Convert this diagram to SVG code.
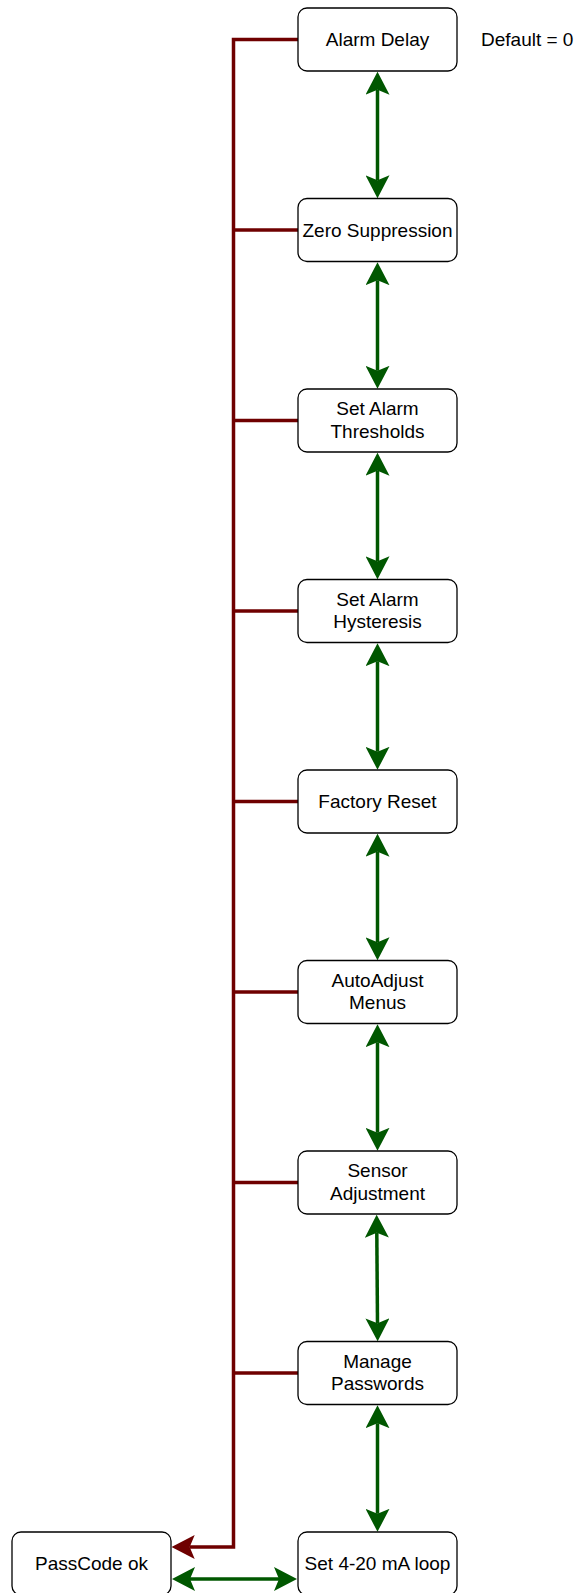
<svg xmlns="http://www.w3.org/2000/svg" width="577" height="1593" viewBox="0 0 577 1593">
<style>
.node rect{fill:#ffffff;stroke:#000000;stroke-width:1.3}
text{font-family:"Liberation Sans",Arial,sans-serif;font-size:19px;fill:#000000}
.lbl{text-anchor:middle}
.red{fill:none;stroke:#6F0000;stroke-width:3.5}
.green{fill:none;stroke:#005700;stroke-width:3.5}
</style>
<defs>
<marker id="ag" viewBox="0 0 23 24" refX="5" refY="12" markerWidth="23" markerHeight="24" markerUnits="userSpaceOnUse" orient="auto-start-reverse">
<path d="M0,0 L23,12 L0,24 L5,12 Z" fill="#005700"/>
</marker>
<marker id="ar" viewBox="0 0 23 24" refX="5" refY="12" markerWidth="23" markerHeight="24" markerUnits="userSpaceOnUse" orient="auto-start-reverse">
<path d="M0,0 L23,12 L0,24 L5,12 Z" fill="#6F0000"/>
</marker>
</defs>
<rect x="0" y="0" width="577" height="1593" fill="#ffffff"/>
<g id="connectors">
<path class="red" d="M298,39.5 H233.5 V1547 H189.7" marker-end="url(#ar)"/>
<path class="red" d="M233.5,230 H298"/>
<path class="red" d="M233.5,420.5 H298"/>
<path class="red" d="M233.5,611 H298"/>
<path class="red" d="M233.5,801.5 H298"/>
<path class="red" d="M233.5,992 H298"/>
<path class="red" d="M233.5,1182.5 H298"/>
<path class="red" d="M233.5,1373 H298"/>
<path class="green" d="M377.5,89.7 V180.3" marker-start="url(#ag)" marker-end="url(#ag)"/>
<path class="green" d="M377.5,280.2 V370.8" marker-start="url(#ag)" marker-end="url(#ag)"/>
<path class="green" d="M377.5,470.7 V561.3" marker-start="url(#ag)" marker-end="url(#ag)"/>
<path class="green" d="M377.5,661.2 V751.8" marker-start="url(#ag)" marker-end="url(#ag)"/>
<path class="green" d="M377.5,851.7 V942.3" marker-start="url(#ag)" marker-end="url(#ag)"/>
<path class="green" d="M377.5,1042.2 V1132.8" marker-start="url(#ag)" marker-end="url(#ag)"/>
<path class="green" d="M376.8,1232.7 L377.5,1323.3" marker-start="url(#ag)" marker-end="url(#ag)"/>
<path class="green" d="M377.5,1423.2 V1513.8" marker-start="url(#ag)" marker-end="url(#ag)"/>
<path class="green" d="M190,1579 H279" marker-start="url(#ag)" marker-end="url(#ag)"/>
</g>
<g id="alarm-delay" class="node"><rect x="298" y="8" width="159" height="63" rx="9"/><text class="lbl" x="377.5" y="46">Alarm Delay</text></g>
<g id="default-note"><text x="481" y="46">Default = 0</text></g>
<g id="zero-suppression" class="node"><rect x="298" y="198.5" width="159" height="63" rx="9"/><text class="lbl" x="377.5" y="236.5">Zero Suppression</text></g>
<g id="set-alarm-thresholds" class="node"><rect x="298" y="389" width="159" height="63" rx="9"/><text class="lbl" x="377.5" y="415">Set Alarm</text><text class="lbl" x="377.5" y="437.5">Thresholds</text></g>
<g id="set-alarm-hysteresis" class="node"><rect x="298" y="579.5" width="159" height="63" rx="9"/><text class="lbl" x="377.5" y="605.5">Set Alarm</text><text class="lbl" x="377.5" y="628">Hysteresis</text></g>
<g id="factory-reset" class="node"><rect x="298" y="770" width="159" height="63" rx="9"/><text class="lbl" x="377.5" y="808">Factory Reset</text></g>
<g id="autoadjust-menus" class="node"><rect x="298" y="960.5" width="159" height="63" rx="9"/><text class="lbl" x="377.5" y="986.5">AutoAdjust</text><text class="lbl" x="377.5" y="1009">Menus</text></g>
<g id="sensor-adjustment" class="node"><rect x="298" y="1151" width="159" height="63" rx="9"/><text class="lbl" x="377.5" y="1177">Sensor</text><text class="lbl" x="377.5" y="1199.5">Adjustment</text></g>
<g id="manage-passwords" class="node"><rect x="298" y="1341.5" width="159" height="63" rx="9"/><text class="lbl" x="377.5" y="1367.5">Manage</text><text class="lbl" x="377.5" y="1390">Passwords</text></g>
<g id="set-loop" class="node"><rect x="298" y="1532" width="159" height="63" rx="9"/><text class="lbl" x="377.5" y="1570">Set 4-20 mA loop</text></g>
<g id="passcode-ok" class="node"><rect x="12" y="1532" width="159" height="63" rx="9"/><text class="lbl" x="91.5" y="1570">PassCode ok</text></g>
</svg>
